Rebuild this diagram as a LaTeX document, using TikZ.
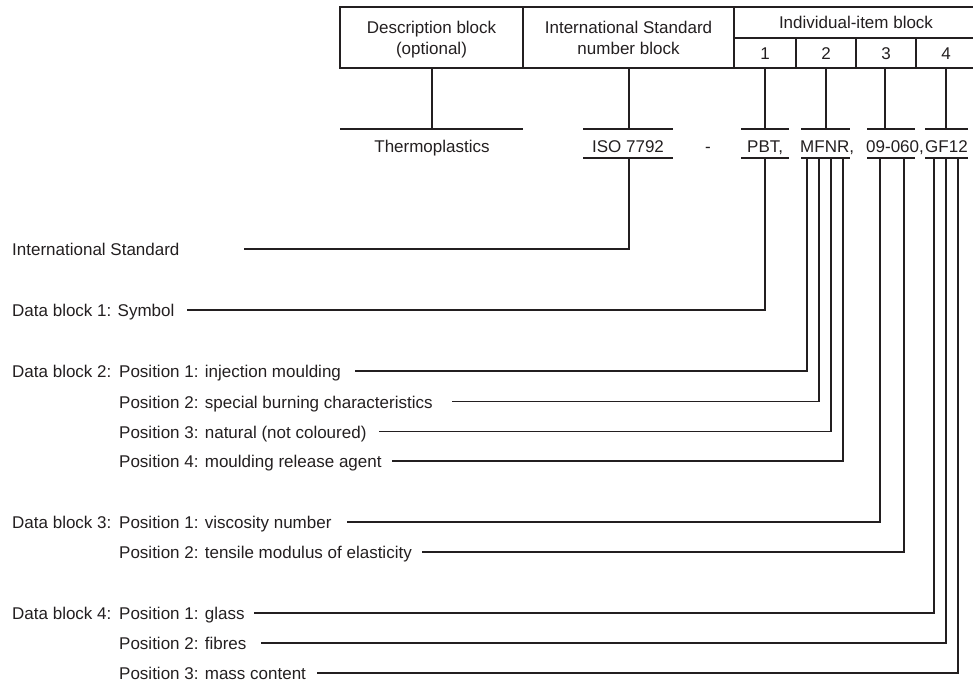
\documentclass[tikz,border=0pt]{standalone}
\usepackage{fontspec}
\setmainfont{Liberation Sans}
\definecolor{ink}{HTML}{231F20}
\tikzset{
  lbl/.style={font=\fontsize{17}{20}\selectfont, text=ink, inner sep=0pt},
  ln/.style={draw=ink, line width=1.3pt},
  conn/.style={draw=ink, line width=1.3pt, line cap=rect}
}
\begin{document}
\begin{tikzpicture}[x=1pt, y=-1pt]
\useasboundingbox (0,0) rectangle (973,681);
% ---------- header table ----------
\draw[ln] (980,7) -- (340,7) -- (340,68) -- (980,68);
\draw[ln] (523,7) -- (523,68);
\draw[ln] (734,7) -- (734,68);
\draw[ln] (734,38) -- (980,38);
\draw[ln] (796,38) -- (796,68);
\draw[ln] (856,38) -- (856,68);
\draw[ln] (916,38) -- (916,68);
\node[lbl, anchor=base] (desc1) at (431.5,33) {Description block};
\node[lbl, anchor=base] (desc2) at (431.5,54) {(optional)};
\node[lbl, anchor=base] (isn1) at (628.5,33) {International Standard};
\node[lbl, anchor=base] (isn2) at (628.5,54) {number block};
\node[lbl, anchor=base] (ind) at (856,28) {Individual-item block};
\node[lbl, anchor=base] (n1) at (765,59) {1};
\node[lbl, anchor=base] (n2) at (826,59) {2};
\node[lbl, anchor=base] (n3) at (886,59) {3};
\node[lbl, anchor=base] (n4) at (946,59) {4};
% ---------- designation row ----------
\node[lbl, anchor=base] (thermo) at (432,152) {Thermoplastics};
\node[lbl, anchor=base] (iso) at (628,152) {ISO 7792};
\node[lbl, anchor=base] (dash) at (708,152) {-};
\node[lbl, anchor=base west] (pbt) at (747,152) {PBT,};
\node[lbl, anchor=base west] (mfnr) at (800,152) {MFNR,};
\node[lbl, anchor=base west] (vn) at (866,152) {09-060,};
\node[lbl, anchor=base west] (gf) at (925,152) {GF12};
% upper rules
\draw[ln] (340,129) -- (523,129);
\draw[ln] (583,129) -- (673,129);
\draw[ln] (741,129) -- (789,129);
\draw[ln] (801,129) -- (850,129);
\draw[ln] (867,129) -- (915,129);
\draw[ln] (925,129) -- (968,129);
% lower rules
\draw[ln] (583,158) -- (673,158);
\draw[ln] (741,158) -- (789,158);
\draw[ln] (801,158) -- (850,158);
\draw[ln] (867,158) -- (915,158);
\draw[ln] (925,158) -- (968,158);
% header-to-rule connectors
\foreach \nm/\x in {D/432, I/629, A/765, B/826, C/885, E/946}{
  \coordinate (h\nm) at (\x,68);
  \coordinate (r\nm) at (\x,129);
  \draw[ln] (h\nm) -- (r\nm);
}
% lower rule points
\coordinate (bIS) at (629,158);
\coordinate (bP) at (765,158);
\coordinate (bM1) at (807,158);
\coordinate (bM2) at (819,158);
\coordinate (bM3) at (831,158);
\coordinate (bM4) at (843,158);
\coordinate (bV1) at (880,158);
\coordinate (bV2) at (904,158);
\coordinate (bG1) at (934,158);
\coordinate (bG2) at (946,158);
\coordinate (bG3) at (958,158);
% ---------- legend labels ----------
\node[lbl, anchor=base west] (lIS) at (12,255.5) {International Standard};
\node[lbl, anchor=base west] (lD1) at (12,316.5) {Data block 1: Symbol};
\node[lbl, anchor=base west] (lD2) at (12,377.5) {Data block 2:};
\node[lbl, anchor=base west] (lD2a) at (119,377.5) {Position 1: injection moulding};
\node[lbl, anchor=base west] (lD2b) at (119,408) {Position 2: special burning characteristics};
\node[lbl, anchor=base west] (lD2c) at (119,438) {Position 3: natural (not coloured)};
\node[lbl, anchor=base west] (lD2d) at (119,467.5) {Position 4: moulding release agent};
\node[lbl, anchor=base west] (lD3) at (12,528.5) {Data block 3:};
\node[lbl, anchor=base west] (lD3a) at (119,528.5) {Position 1: viscosity number};
\node[lbl, anchor=base west] (lD3b) at (119,558.5) {Position 2: tensile modulus of elasticity};
\node[lbl, anchor=base west] (lD4) at (12,619.5) {Data block 4:};
\node[lbl, anchor=base west] (lD4a) at (119,619.5) {Position 1: glass};
\node[lbl, anchor=base west] (lD4b) at (119,649.5) {Position 2: fibres};
\node[lbl, anchor=base west] (lD4c) at (119,679.5) {Position 3: mass content};
% connector starts
\coordinate (sIS) at (245,249);
\coordinate (sD1) at (188,310);
\coordinate (sD2a) at (356,371);
\coordinate (sD2b) at (453,401.5);
\coordinate (sD2c) at (380,431.5);
\coordinate (sD2d) at (393,461);
\coordinate (sD3a) at (348,522);
\coordinate (sD3b) at (423,552);
\coordinate (sD4a) at (255,613);
\coordinate (sD4b) at (262,643);
\coordinate (sD4c) at (318,673);
% connectors
\draw[conn] (sIS) -| (bIS);
\draw[conn] (sD1) -| (bP);
\draw[conn] (sD2a) -| (bM1);
\draw[conn] (sD2b) -| (bM2);
\draw[conn] (sD2c) -| (bM3);
\draw[conn] (sD2d) -| (bM4);
\draw[conn] (sD3a) -| (bV1);
\draw[conn] (sD3b) -| (bV2);
\draw[conn] (sD4a) -| (bG1);
\draw[conn] (sD4b) -| (bG2);
\draw[conn] (sD4c) -| (bG3);
\end{tikzpicture}
\end{document}
